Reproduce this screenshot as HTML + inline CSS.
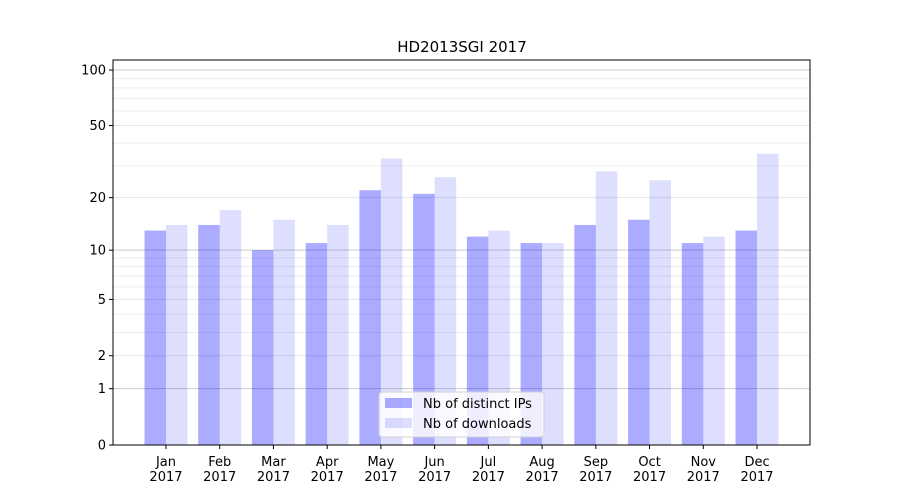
<!DOCTYPE html>
<html><head><meta charset="utf-8"><style>
body{margin:0;background:#fff;}
svg{display:block;font-family:"DejaVu Sans","Liberation Sans",sans-serif;}
</style></head><body>
<svg id="chart" width="900" height="500">
<text x="462" y="52" text-anchor="middle" font-size="15">HD2013SGI 2017</text>
<g id="grid"></g><g id="bars"></g><g id="axes"></g>
</svg>
<script>
const categories=["Jan","Feb","Mar","Apr","May","Jun","Jul","Aug","Sep","Oct","Nov","Dec"];
const yearLabel="2017";
const distinctIPs=[13,14,10,11,22,21,12,11,14,15,11,13];
const downloads=[14,17,15,14,33,26,13,11,28,25,12,35];
const yTicks=[0,1,2,5,10,20,50,100];
const minorTicks=[3,4,6,7,8,9,30,40,60,70,80,90];
const seriesNames=["Nb of distinct IPs","Nb of downloads"];

const NS="http://www.w3.org/2000/svg";
const L=113,R=810,T=60,B=445;
const k=375/Math.log10(101);
function y(v){return B-k*Math.log10(1+v);}
const xmin=-0.986,xmax=categories.length-1+0.986;
function x(i){return L+(i-xmin)/(xmax-xmin)*(R-L);}
const unit=(R-L)/(xmax-xmin);
function mk(tag,attrs,parent){const e=document.createElementNS(NS,tag);for(const a in attrs)e.setAttribute(a,attrs[a]);parent.appendChild(e);return e;}
const grid=document.getElementById('grid'),bars=document.getElementById('bars'),axes=document.getElementById('axes');
minorTicks.forEach(v=>{const l=mk('line',{x1:L,x2:R,y1:y(v),y2:y(v),stroke:'#eeeeee','stroke-width':1},grid);

});
yTicks.forEach(v=>{const l=mk('line',{x1:L,x2:R,y1:y(v),y2:y(v),stroke:(v===1||v===10||v===100)?'#cccccc':'#e6e6e6','stroke-width':1},grid);

});
categories.forEach((c,i)=>{
 const b1=mk('rect',{x:x(i)-0.4*unit,y:y(distinctIPs[i]),width:0.4*unit,height:B-y(distinctIPs[i]),fill:'#0000ff','fill-opacity':0.33},bars);
 
 
 const b2=mk('rect',{x:x(i),y:y(downloads[i]),width:0.4*unit,height:B-y(downloads[i]),fill:'#0000ff','fill-opacity':0.13},bars);
 
 
 mk('line',{x1:x(i),x2:x(i),y1:B,y2:B+4,stroke:'#000'},axes);
 const t=mk('text',{x:x(i),y:B+21,'text-anchor':'middle','font-size':13},axes);t.textContent=c;
 
 
 const t2=mk('text',{x:x(i),y:B+36,'text-anchor':'middle','font-size':13},axes);t2.textContent=yearLabel;
 
 
});
yTicks.forEach(v=>{mk('line',{x1:L-4,x2:L,y1:y(v),y2:y(v),stroke:'#000'},axes);
 const t=mk('text',{x:L-7,y:y(v)+4.5,'text-anchor':'end','font-size':13},axes);t.textContent=v;
 
 });
const fr=mk('rect',{x:L,y:T,width:R-L,height:B-T,fill:'none',stroke:'#000','stroke-width':1},axes);


const lg=mk('g',{},axes);


mk('rect',{x:379,y:392,width:165,height:45,fill:'#fff','fill-opacity':0.8,stroke:'#d0d0d0',rx:3},lg);
[0,1].forEach(j=>{
 mk('rect',{x:385,y:398+j*20,width:27,height:10,fill:'#0000ff','fill-opacity':j?0.13:0.33},lg);
 const t=mk('text',{x:423,y:408+j*20,'font-size':13},lg);t.textContent=seriesNames[j];
 
 
});
</script>
</body></html>
